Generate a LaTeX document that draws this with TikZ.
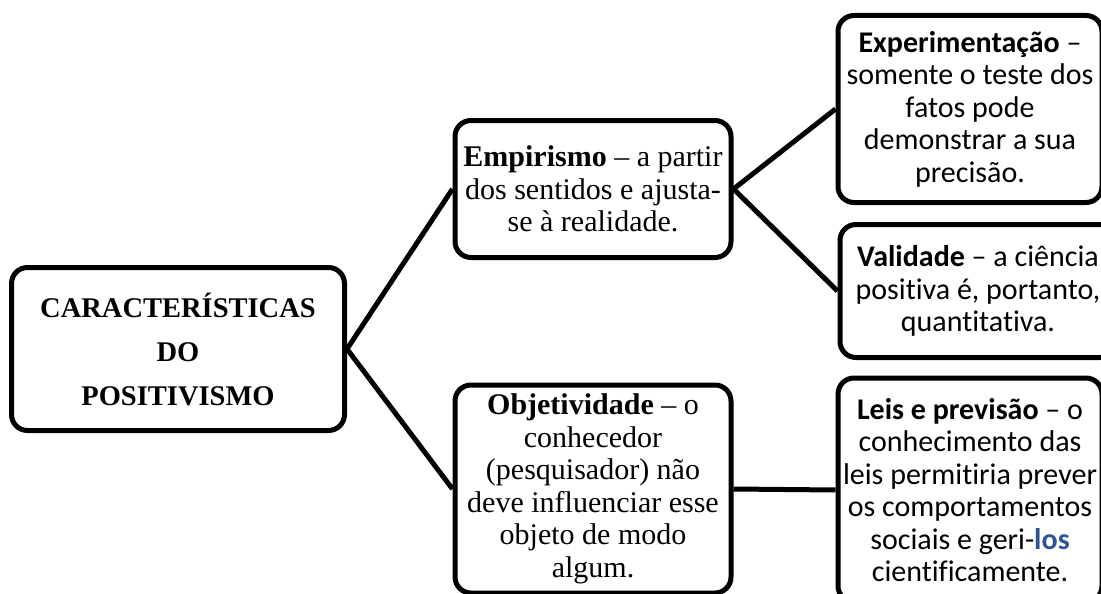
\documentclass[tikz,border=0pt]{standalone}
\usepackage{fontspec}
\setmainfont{Liberation Serif}
\newfontfamily\calibri[Ligatures={TeX,NoCommon}]{Carlito}
\definecolor{losblue}{RGB}{47,84,150}
\tikzset{
    box/.style={draw, line width=5pt, rounded corners=16pt, align=center, inner sep=0pt},
    serifbox/.style={box, font=\fontsize{30}{32.5}\selectfont},
    calibox/.style={box, font=\calibri\fontsize{30}{32.5}\selectfont},
    link/.style={line width=5pt}
}
\begin{document}
\begin{tikzpicture}[x=1pt,y=-1pt]

    \useasboundingbox (0,0) rectangle (1101,594);

    \node[box, font=\bfseries\fontsize{28.5}{44}\selectfont, minimum width=333pt, minimum height=163pt]
        (root) at (178,349) {CARACTERÍSTICAS\\DO\\POSITIVISMO};

    \node[serifbox, minimum width=276pt, minimum height=137pt] (emp) at (593,189)
        {\textbf{Empirismo} -- a partir\\dos sentidos e ajusta-\\se à realidade.};
    \node[serifbox, minimum width=276pt, minimum height=208pt] (obj) at (593,489)
        {\textbf{Objetividade} -- o\\conhecedor\\(pesquisador) não\\deve influenciar esse\\objeto de modo\\algum.};

    \node[calibox, minimum width=264pt, minimum height=187pt] (exp) at (970,109)
        {\textbf{Experimentação} –\\somente o teste dos\\fatos pode\\demonstrar a sua\\precisão.};
    \node[calibox, minimum width=276pt, minimum height=133pt] (val) at (978,291)
        {\textbf{Validade} – a ciência\\positiva é, portanto,\\quantitativa.};
    \node[calibox, minimum width=264pt, minimum height=224pt] (leis) at (970,490)
        {\textbf{Leis e previsão} – o\\conhecimento das\\leis permitiria prever\\os comportamentos\\sociais e geri-\textcolor{losblue}{\textbf{los}}\\cientificamente.};

    \draw[link] (root.east) -- (emp.west);
    \draw[link] (root.east) -- (obj.west);
    \draw[link] (emp.east) -- (exp.west);
    \draw[link] (emp.east) -- (val.west);
    \draw[link] (obj.east) -- (leis.west);

\end{tikzpicture}
\end{document}
